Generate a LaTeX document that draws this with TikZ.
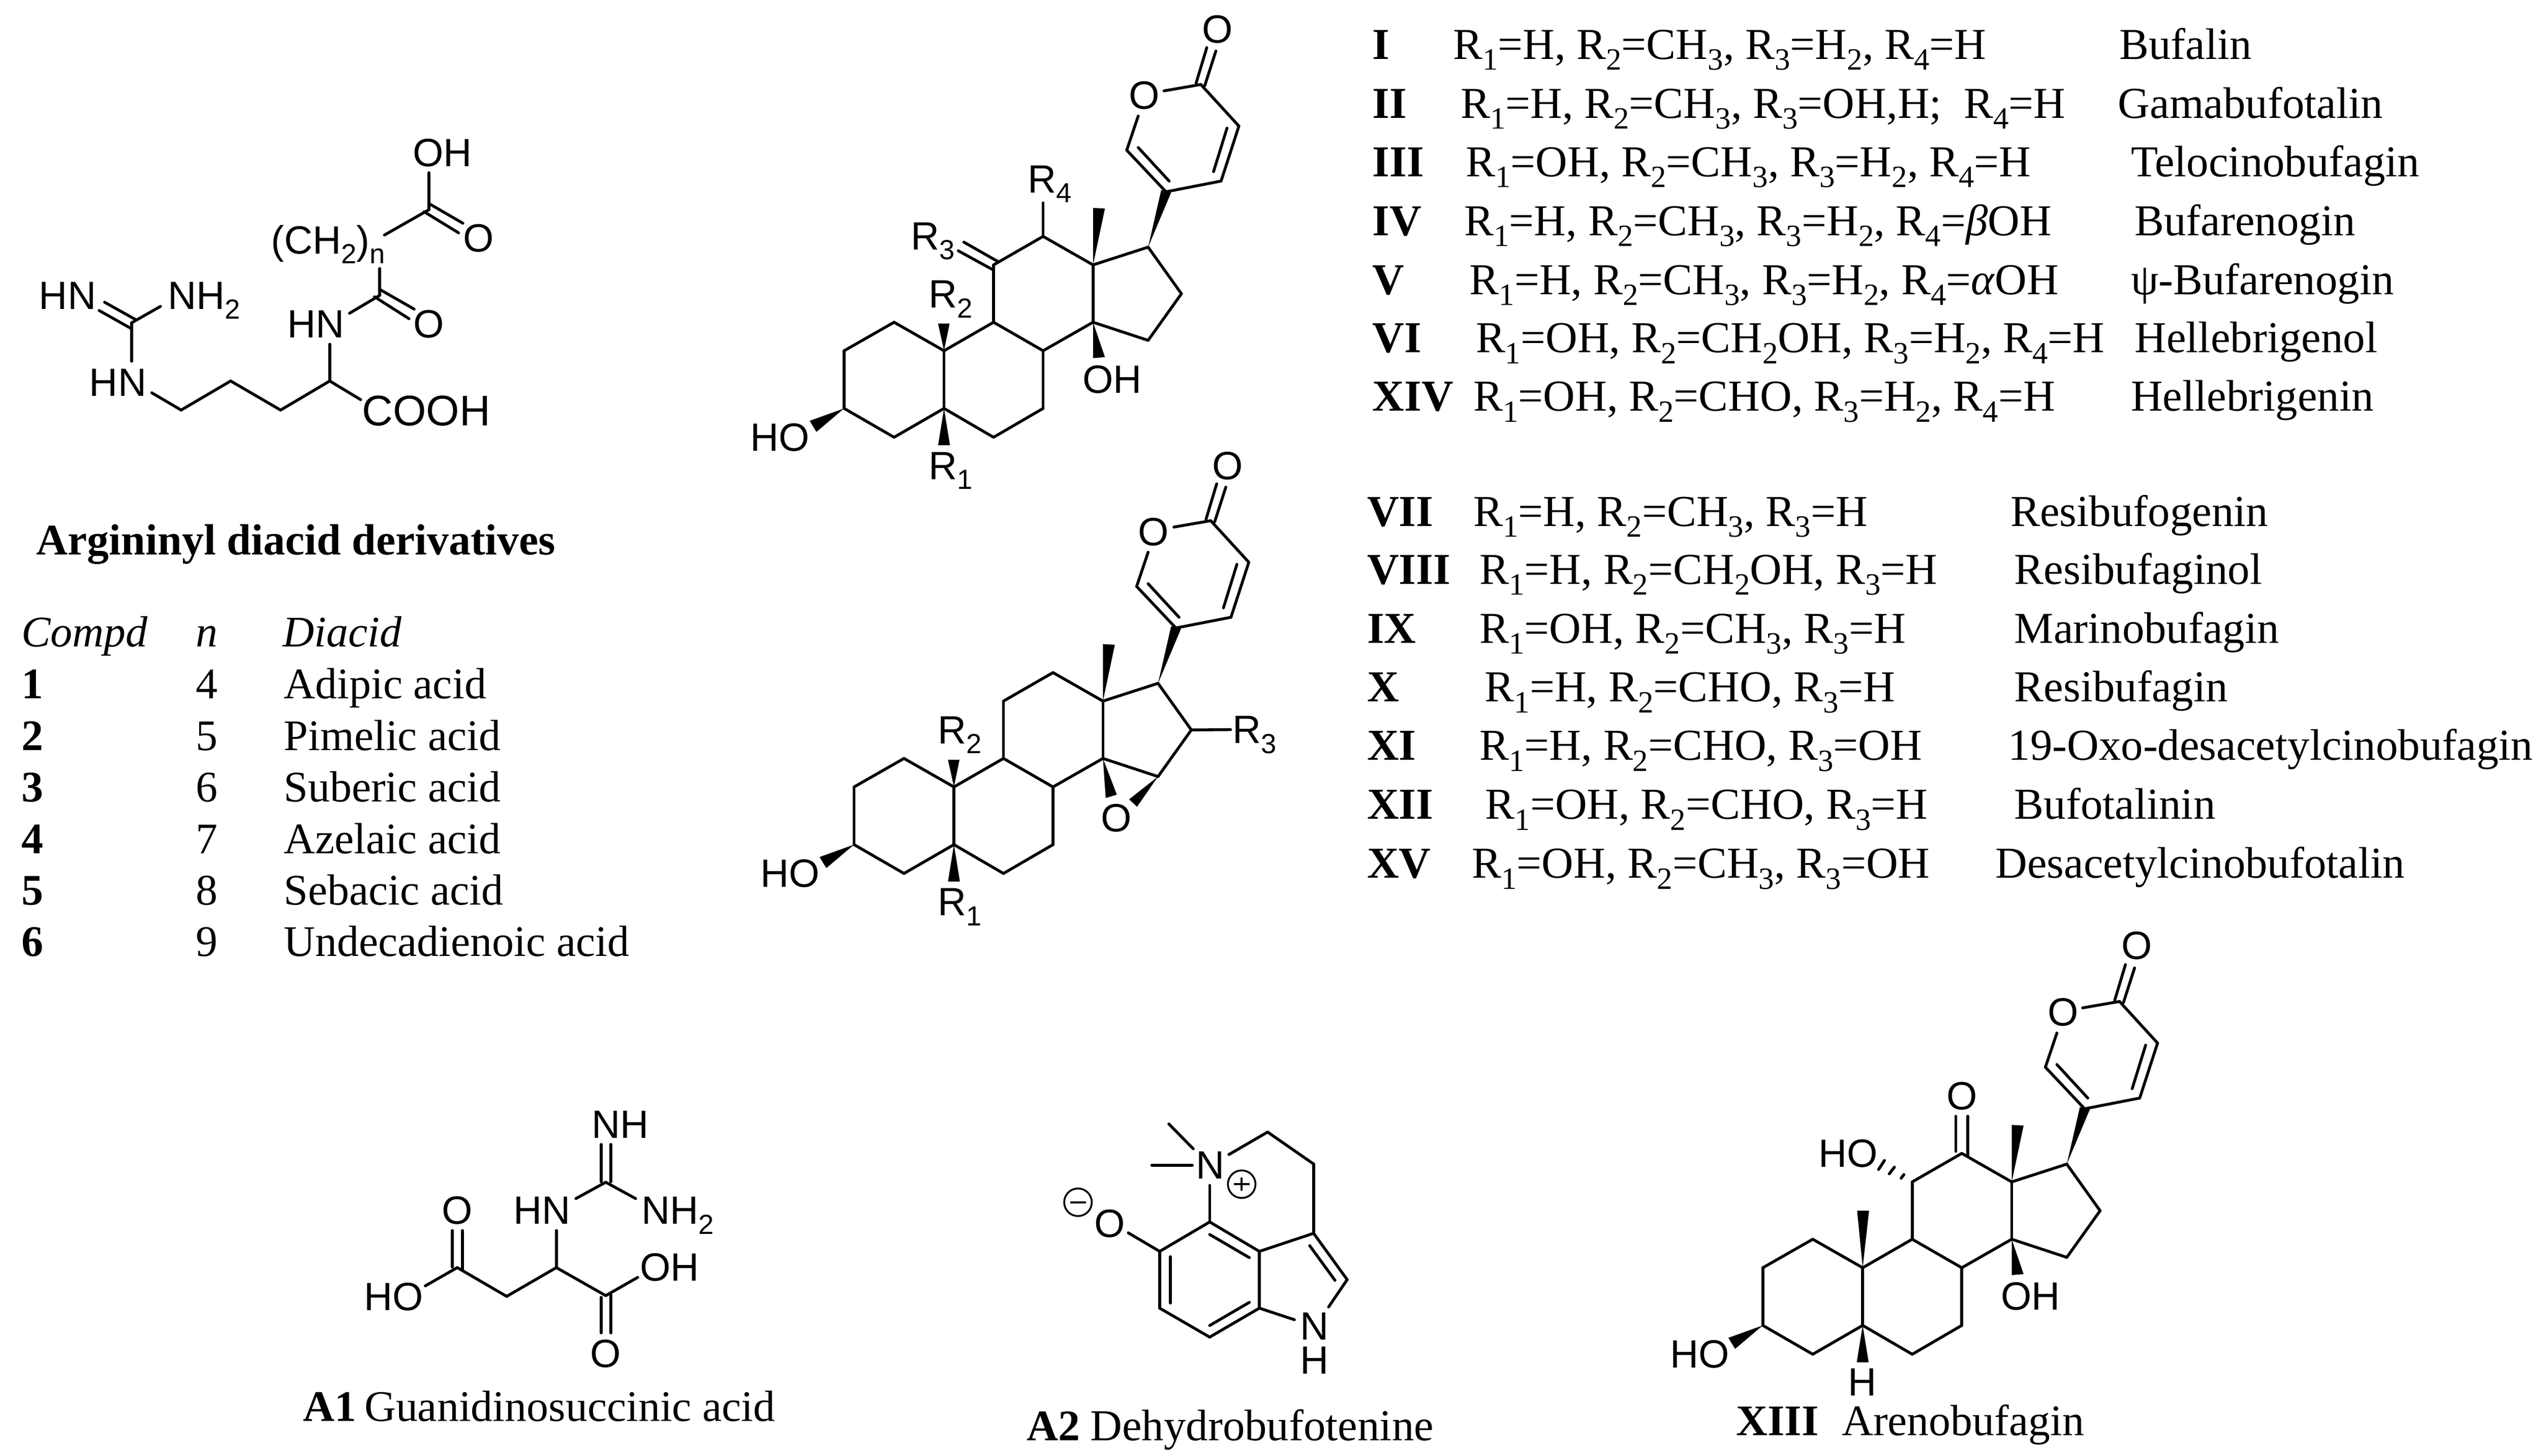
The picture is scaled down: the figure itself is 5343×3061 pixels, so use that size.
\documentclass[tikz,border=0pt]{standalone}
\usepackage{fontspec}
\setmainfont{Liberation Serif}
\newfontfamily\chemsf{Liberation Sans}
\newcommand\sbs[1]{\raisebox{-0.25em}{\scalebox{0.7}{#1}}}
\newcommand\Rn[1]{R\sbs{#1}}
\tikzset{
  bond/.style={line width=1.7pt,line cap=round,line join=round},
  wedgebond/.style={fill=black,draw=none},
  atom/.style={anchor=base west,inner sep=0pt,xshift=-1.7pt,font=\chemsf\fontsize{23.6}{23.6}\selectfont},
  atomc/.style={anchor=center,inner sep=0pt,font=\chemsf\fontsize{23.6}{23.6}\selectfont},
  txt/.style={anchor=base west,inner sep=0pt,font=\fontsize{26.1}{26.1}\selectfont},
  txtl/.style={txt,xshift=-0.8pt,yshift=0.8pt},
  txtr/.style={anchor=base west,inner sep=0pt,font=\fontsize{26.4}{26.4}\selectfont},
  txtm/.style={txtr,xshift=-1pt},
  txte/.style={txtr,xshift=-2.3pt},
  charge/.style={circle,draw,line width=1.1pt,minimum size=0.58cm,inner sep=0pt},
  zoomed/.style n args={4}{shift={(#1,#2)},x=#3*0.01cm/1560,y=-#4*0.01cm/1560}
}
% steroid skeleton with the pyranone ring: prefix, dx, dy
\newcommand\steroid[3]{%
  \foreach \n/\x/\y in {c1/456/961,c2/330/1046,c3/330/1218,c4/456/1304,c5/582/1218,c6/707/1304,c7/832/1218,c8/832/1046,c9/707/961,c10/582/1046,c11/707/790,c12/832/705,c13/958/790,c14/958/961,c15/1097/1015,c16/1181/876,c17/1097/737,c20/1142/572,c21/1043/448,oa/1072/346,ob/1137/271,c23/1230/252,c24/1326/376,c25/1281/540,ia/1072/440,ib/1150/540,ic/1296/382,id/1262/512,da/1218/248,db/1245/142,dc/1240/255,dd/1268/152}
    \coordinate (#1\n) at ({\x+#2},{\y+#3});
  \foreach \a/\b in {c1/c2,c2/c3,c3/c4,c4/c5,c5/c10,c10/c1,c5/c6,c6/c7,c7/c8,c8/c9,c9/c10,c9/c11,c11/c12,c12/c13,c13/c14,c14/c8,c14/c15,c15/c16,c16/c17,c17/c13,c20/c21,c21/oa,ob/c23,c23/c24,c24/c25,c25/c20,ia/ib,ic/id,da/db,dc/dd}
    \draw[bond] (#1\a) -- (#1\b);
  \fill[wedgebond] (#1c17) -- ++(33,-170) -- ++(25,7) -- cycle;
  \fill[wedgebond] (#1c13) -- ++(0,-170) -- ++(30,2) -- cycle;
  \fill[wedgebond] (#1c3) -- ++(-87,37) -- ++(17,33) -- cycle;
  \fill[wedgebond] (#1c5) -- ++(-15,110) -- ++(30,0) -- cycle;
}
\begin{document}
\begin{tikzpicture}[x=0.01cm,y=-0.01cm]
\useasboundingbox (0,0) rectangle (5343,3061);
\fill[white] (0,0) rectangle (5343,3061);

% ---------- arginyl diacid
\begin{scope}[zoomed={0}{200}{1300}{900}]
  \foreach \n/\x/\y in {g/332/830,ga/264/755,gb/342/818,gc/250/785,gd/330/850,ge/405/770,gf/332/970,h1/383/1085,h2/457/1148,h3/582/1042,h4/708/1148,h5/832/1042,h6/910/1110,h7/832/908,k1/882/795,k2/958/730,k3/958/632,k4/958/708,k5/1045/780,k6/945/735,k7/1032/815,m1/970/510,m2/1082/418,m3/1082/283,m4/1082/395,m5/1168/467,m6/1070/425,m7/1157/502}
    \coordinate (\n) at (\x,\y);
  \foreach \a/\b in {ga/gb,gc/gd,g/ge,g/gf,h1/h2,h2/h3,h3/h4,h4/h5,h5/h6,h5/h7,k1/k2,k2/k3,k4/k5,k6/k7,m1/m2,m2/m3,m4/m5,m6/m7}
    \draw[bond] (\a) -- (\b);
  \node[atom] (a1) at (105,780) {HN};
  \node[atom] (a2) at (430,780) {NH\sbs{2}};
  \node[atom] (a3) at (232,1097) {HN};
  \node[atom] (a4) at (732,885) {HN};
  \node[atomc] (a5) at (1082,835) {O};
  \node[atom] (a6) at (690,578) {(CH\sbs{2})\sbs{n}};
  \node[atomc] (a7) at (1207,522) {O};
  \node[atom] (a8) at (1048,260) {OH};
  \node[atom,font=\chemsf\fontsize{25.6}{25.6}\selectfont] (a9) at (920,1205) {COOH};
\end{scope}

% ---------- left table
\node[txt] (title) at (76,1166) {\textbf{Argininyl diacid derivatives}};
\node[txtl] (h1c) at (47,1363) {\textit{Compd}};
\node[txtl] (h2c) at (414,1363) {\textit{n}};
\node[txtl] (h3c) at (597,1363) {\textit{Diacid}};
\node[txtl] (l1a) at (47,1472) {\textbf{1}};
\node[txtl] (l1b) at (414,1472) {4};
\node[txtl] (l1c) at (599,1472) {Adipic acid};
\node[txtl] (l2a) at (47,1581) {\textbf{2}};
\node[txtl] (l2b) at (414,1581) {5};
\node[txtl] (l2c) at (599,1581) {Pimelic acid};
\node[txtl] (l3a) at (47,1689) {\textbf{3}};
\node[txtl] (l3b) at (414,1689) {6};
\node[txtl] (l3c) at (599,1689) {Suberic acid};
\node[txtl] (l4a) at (47,1797) {\textbf{4}};
\node[txtl] (l4b) at (414,1797) {7};
\node[txtl] (l4c) at (599,1797) {Azelaic acid};
\node[txtl] (l5a) at (47,1905) {\textbf{5}};
\node[txtl] (l5b) at (414,1905) {8};
\node[txtl] (l5c) at (599,1905) {Sebacic acid};
\node[txtl] (l6a) at (47,2013) {\textbf{6}};
\node[txtl] (l6b) at (414,2013) {9};
\node[txtl] (l6c) at (599,2013) {Undecadienoic acid};

% ---------- steroid 1
\begin{scope}[zoomed={1500}{0}{1300}{1100}]
  \steroid{s-}{0}{0}
  \fill[wedgebond] (s-c14) -- ++(0,107) -- ++(30,-3) -- cycle;
  \fill[wedgebond] (s-c10) -- ++(-15,-81) -- ++(29,0) -- cycle;
  \foreach \n/\x/\y in {r4/832/605,ra/618/748,rb/703/803,rc/632/722,rd/718/780}
    \coordinate (s-\n) at (\x,\y);
  \draw[bond] (s-c12) -- (s-r4);
  \draw[bond] (s-ra) -- (s-rb);
  \draw[bond] (s-rc) -- (s-rd);
  \node[atomc] (s-o1) at (1088,285) {O};
  \node[atomc] (s-o2) at (1272,88) {O};
  \node[atom] (s-l4) at (800,575) {\Rn{4}};
  \node[atom] (s-l3) at (505,745) {\Rn{3}};
  \node[atom] (s-l2) at (550,918) {\Rn{2}};
  \node[atom] (s-l1) at (550,1430) {\Rn{1}};
  \node[atom] (s-oh) at (938,1172) {OH};
  \node[atom] (s-ho) at (100,1345) {HO};
\end{scope}

% ---------- steroid 2 (epoxide)
\begin{scope}[zoomed={1500}{920}{1300}{1100}]
  \steroid{e-}{25}{-4}
  \fill[wedgebond] (e-c14) -- ++(7,118) -- ++(28,-10) -- cycle;
  \fill[wedgebond] (e-c15) -- ++(-73,68) -- ++(20,22) -- cycle;
  \fill[wedgebond] (e-c10) -- ++(-15,-81) -- ++(29,0) -- cycle;
  \coordinate (e-r3) at (1305,871);
  \draw[bond] (e-c16) -- (e-r3);
  \node[atomc] (e-o1) at (1110,282) {O};
  \node[atomc] (e-o2) at (1298,84) {O};
  \node[atomc] (e-o3) at (1017,1135) {O};
  \node[atom] (e-l3) at (1317,912) {\Rn{3}};
  \node[atom] (e-l2) at (573,913) {\Rn{2}};
  \node[atom] (e-l1) at (573,1426) {\Rn{1}};
  \node[atom] (e-ho) at (125,1341) {HO};
\end{scope}

% ---------- table I-XIV
\node[txtr] (r1a) at (2885,124) {\textbf{I}};
\node[txtm] (r1b) at (3058,124) {\Rn{1}=H, \Rn{2}=CH\sbs{3}, \Rn{3}=H\sbs{2}, \Rn{4}=H};
\node[txte] (r1c) at (4464,124) {Bufalin};
\node[txtr] (r2a) at (2885,248) {\textbf{II}};
\node[txtm] (r2b) at (3074,248) {\Rn{1}=H, \Rn{2}=CH\sbs{3}, \Rn{3}=OH,H;\ \ \Rn{4}=H};
\node[txte] (r2c) at (4461,248) {Gamabufotalin};
\node[txtr] (r3a) at (2885,371) {\textbf{III}};
\node[txtm] (r3b) at (3085,371) {\Rn{1}=OH, \Rn{2}=CH\sbs{3}, \Rn{3}=H\sbs{2}, \Rn{4}=H};
\node[txte] (r3c) at (4488,371) {Telocinobufagin};
\node[txtr] (r4a) at (2885,495) {\textbf{IV}};
\node[txtm] (r4b) at (3082,495) {\Rn{1}=H, \Rn{2}=CH\sbs{3}, \Rn{3}=H\sbs{2}, \Rn{4}=\textit{β}OH};
\node[txte] (r4c) at (4496,495) {Bufarenogin};
\node[txtr] (r5a) at (2885,619) {\textbf{V}};
\node[txtm] (r5b) at (3093,619) {\Rn{1}=H, \Rn{2}=CH\sbs{3}, \Rn{3}=H\sbs{2}, \Rn{4}=\textit{α}OH};
\node[txte] (r5c) at (4488,619) {ψ-Bufarenogin};
\node[txtr] (r6a) at (2885,741) {\textbf{VI}};
\node[txtm] (r6b) at (3106,741) {\Rn{1}=OH, \Rn{2}=CH\sbs{2}OH, \Rn{3}=H\sbs{2}, \Rn{4}=H};
\node[txte] (r6c) at (4496,741) {Hellebrigenol};
\node[txtr] (r7a) at (2885,864) {\textbf{XIV}};
\node[txtm] (r7b) at (3101,864) {\Rn{1}=OH, \Rn{2}=CHO, \Rn{3}=H\sbs{2}, \Rn{4}=H};
\node[txte] (r7c) at (4488,864) {Hellebrigenin};

% ---------- table VII-XV
\node[txtr] (q1a) at (2874,1106) {\textbf{VII}};
\node[txtm] (q1b) at (3101,1106) {\Rn{1}=H, \Rn{2}=CH\sbs{3}, \Rn{3}=H};
\node[txte] (q1c) at (4235,1106) {Resibufogenin};
\node[txtr] (q2a) at (2874,1228) {\textbf{VIII}};
\node[txtm] (q2b) at (3114,1228) {\Rn{1}=H, \Rn{2}=CH\sbs{2}OH, \Rn{3}=H};
\node[txte] (q2c) at (4243,1228) {Resibufaginol};
\node[txtr] (q3a) at (2874,1352) {\textbf{IX}};
\node[txtm] (q3b) at (3114,1352) {\Rn{1}=OH, \Rn{2}=CH\sbs{3}, \Rn{3}=H};
\node[txte] (q3c) at (4243,1352) {Marinobufagin};
\node[txtr] (q4a) at (2874,1475) {\textbf{X}};
\node[txtm] (q4b) at (3125,1475) {\Rn{1}=H, \Rn{2}=CHO, \Rn{3}=H};
\node[txte] (q4c) at (4243,1475) {Resibufagin};
\node[txtr] (q5a) at (2874,1598) {\textbf{XI}};
\node[txtm] (q5b) at (3114,1598) {\Rn{1}=H, \Rn{2}=CHO, \Rn{3}=OH};
\node[txte] (q5c) at (4230,1598) {19-Oxo-desacetylcinobufagin};
\node[txtr] (q6a) at (2874,1722) {\textbf{XII}};
\node[txtm] (q6b) at (3126,1722) {\Rn{1}=OH, \Rn{2}=CHO, \Rn{3}=H};
\node[txte] (q6c) at (4243,1722) {Bufotalinin};
\node[txtr] (q7a) at (2874,1846) {\textbf{XV}};
\node[txtm] (q7b) at (3098,1846) {\Rn{1}=OH, \Rn{2}=CH\sbs{3}, \Rn{3}=OH};
\node[txte] (q7c) at (4203,1846) {Desacetylcinobufotalin};

% ---------- A1
\begin{scope}[zoomed={700}{2250}{1000}{800}]
  \foreach \n/\x/\y in {g0/895/460,ga/880/305,gb/880/458,gc/912/305,gd/912/458,ge/993/527,gf/797/527,h1/733/658,h2/733/810,h3/570/928,h4/408/810,h5/303/885,h6/392/658,h7/392/808,h8/425/658,h9/425/820,j1/895/925,j2/1000/850,j3/880/932,j4/880/1078,j5/912/922,j6/912/1078}
    \coordinate (u-\n) at (\x,\y);
  \foreach \a/\b in {ga/gb,gc/gd,g0/ge,g0/gf,h1/h2,h2/h3,h3/h4,h4/h5,h6/h7,h8/h9,h2/j1,j1/j2,j3/j4,j5/j6}
    \draw[bond] (u-\a) -- (u-\b);
  \node[atom] (u-nh) at (858,280) {NH};
  \node[atom] (u-nh2) at (1020,632) {NH\sbs{2}};
  \node[atom] (u-hn) at (600,632) {HN};
  \node[atomc] (u-o1) at (408,575) {O};
  \node[atom] (u-ho) at (110,985) {HO};
  \node[atom] (u-oh) at (1015,865) {OH};
  \node[atomc] (u-o2) at (895,1163) {O};
\end{scope}
\node[txt] (capa1a) at (637,2988) {\textbf{A1}};
\node[txt,xshift=-1pt] (capa1b) at (769,2988) {Guanidinosuccinic acid};

% ---------- A2
\begin{scope}[zoomed={2100}{2300}{1000}{760}]
  \foreach \n/\x/\y in {b1/692/553,b2/855/680,b3/855/925,b4/692/1050,b5/528/925,b6/528/680,i1/692/607,i2/822/707,i3/822/900,i4/692/1000,i5/563/703,i6/563/903,p1/1033/602,p2/1143/802,p3/1082/920,p4/1020/655,p5/1103/805,p6/970/975,t1/1033/303,t2/882/165,t3/755/262,t4/692/395,m1/638/237,m2/558/130,m3/635/308,m4/502/308,o1/425/600}
    \coordinate (v-\n) at (\x,\y);
  \foreach \a/\b in {b1/b2,b2/b3,b3/b4,b4/b5,b5/b6,b6/b1,i1/i2,i3/i4,i5/i6,b2/p1,p1/p2,p2/p3,p4/p5,b3/p6,p1/t1,t1/t2,t2/t3,b1/t4,m1/m2,m3/m4,b6/o1}
    \draw[bond] (v-\a) -- (v-\b);
  \node[atom] (v-n) at (655,367) {N};
  \node[atom] (v-nh) at (998,1062) {N};
  \node[atom] (v-h) at (998,1208) {H};
  \node[atomc] (v-o) at (365,560) {O};
  \node[charge] (v-minus) at (260,468) {};
  \node[charge] (v-plus) at (797,390) {};
  \draw[line width=1.3pt] (v-minus.center) ++(-26,0) -- ++(52,0);
  \draw[line width=1.3pt] (v-plus.center) ++(-26,0) -- ++(52,0);
  \draw[line width=1.3pt] (v-plus.center) ++(0,-28) -- ++(0,56);
\end{scope}
\node[txt] (capa2a) at (2158,3029) {\textbf{A2}};
\node[txtr] (capa2b) at (2292,3029) {Dehydrobufotenine};

% ---------- XIII
\begin{scope}[zoomed={3500}{1950}{1300}{1100}]
  \steroid{x-}{-82}{-31}
  \fill[wedgebond] (x-c14) -- ++(0,107) -- ++(30,-3) -- cycle;
  \fill[wedgebond] (x-c10) -- ++(-14,-170) -- ++(30,0) -- cycle;
  \foreach \n/\x/\y in {ka/735/563,kb/735/668,kc/765/563,kd/765/682,ha/597/748,hb/604/737,hc/567/735,hd/580/715,he/540/722,hf/555/695}
    \coordinate (x-\n) at (\x,\y);
  \foreach \a/\b in {ka/kb,kc/kd,ha/hb,hc/hd,he/hf}
    \draw[bond] (x-\a) -- (x-\b);
  \node[atomc] (x-o1) at (1006,253) {O};
  \node[atomc] (x-o2) at (1192,55) {O};
  \node[atomc] (x-o3) at (750,503) {O};
  \node[atom] (x-hoa) at (395,715) {HO};
  \node[atom] (x-oh) at (855,1140) {OH};
  \node[atom] (x-ho) at (20,1313) {HO};
  \node[atom] (x-h) at (470,1397) {H};
\end{scope}
\node[txt] (capx1) at (3650,3018) {\textbf{XIII}};
\node[txt] (capx2) at (3872,3018) {Arenobufagin};
\end{tikzpicture}
\end{document}
